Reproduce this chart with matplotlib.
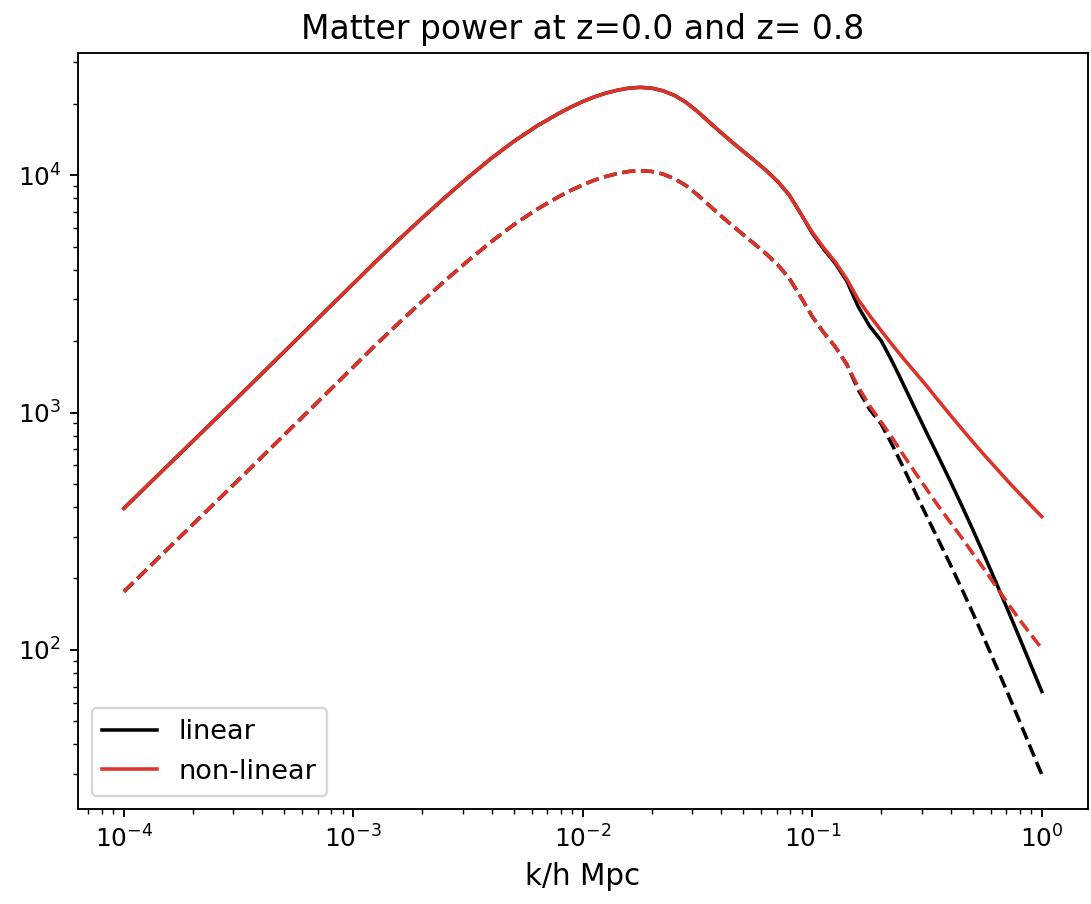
import numpy as np
import matplotlib
matplotlib.use("Agg")
import matplotlib.pyplot as plt

# redshifts
z = [0.0, 0.8]

# log10(k/h) sample points
logk = [-4.0, -3.5, -3.0, -2.9, -2.8, -2.7, -2.6, -2.5, -2.4, -2.3,
        -2.2, -2.1, -2.05, -2.0, -1.95, -1.9, -1.85, -1.8, -1.75, -1.7,
        -1.65, -1.6, -1.55, -1.5, -1.45, -1.4, -1.35, -1.3, -1.25, -1.2,
        -1.15, -1.1, -1.05, -1.0, -0.95, -0.9, -0.85, -0.8, -0.75, -0.7,
        -0.65, -0.6, -0.55, -0.5, -0.45, -0.4, -0.35, -0.3, -0.25, -0.2,
        -0.15, -0.1, -0.05, 0.0]

# linear P(k), z=0
pk_lin_z0 = [394.8, 1168.6, 3494, 4350, 5373, 6604, 8072, 9788, 11755, 13897,
             16116, 18323, 19406, 20436, 21370, 22157, 22789, 23260, 23442, 23260,
             22658, 21663, 20258, 18523, 16755, 15171, 13790, 12571, 11472, 10438,
             9387, 8231, 6874, 5685, 4866, 4246, 3580, 2793, 2310, 2006,
             1627, 1294, 1025, 815, 649.6, 516.4, 407.9, 319.8, 249.0, 192.8,
             148.6, 114.1, 87.3, 66.8]
# non-linear P(k), z=0
pk_nl_z0 = [394.8, 1168.6, 3494, 4350, 5373, 6604, 8072, 9788, 11755, 13897,
            16116, 18323, 19406, 20436, 21370, 22157, 22789, 23260, 23442, 23260,
            22658, 21663, 20258, 18523, 16755, 15171, 13790, 12571, 11472, 10438,
            9387, 8231, 6874, 5741, 4937, 4308, 3651, 2990, 2559, 2212,
            1920, 1675, 1469, 1288, 1121, 979, 856.5, 751, 661, 584.4,
            516.4, 458.5, 408.3, 364.4]
# linear P(k), z=0.8
pk_lin_z08 = [176.0, 520.8, 1557, 1939, 2395, 2943, 3598, 4362, 5239, 6194,
              7183, 8167, 8649, 9108, 9525, 9875, 10157, 10367, 10448, 10367,
              10099, 9655, 9029, 8256, 7468, 6762, 6146, 5603, 5113, 4652,
              4184, 3669, 3064, 2534, 2169, 1892, 1596, 1245, 1030, 894,
              725, 577, 457, 363, 289.5, 230.2, 181.8, 142.5, 111.0, 85.9,
              66.2, 50.9, 38.9, 29.8]
# non-linear P(k), z=0.8
pk_nl_z08 = [176.0, 520.8, 1557, 1939, 2395, 2943, 3598, 4362, 5239, 6194,
             7183, 8167, 8649, 9108, 9525, 9875, 10157, 10367, 10448, 10367,
             10099, 9655, 9029, 8256, 7468, 6762, 6146, 5603, 5113, 4652,
             4184, 3669, 3064, 2534, 2169, 1892, 1596, 1282, 1065, 912,
             778, 655, 555, 472.5, 402.4, 346.0, 297.6, 254.6, 217.9, 185.6,
             158.0, 135.2, 116.8, 101.3]

kh = 10 ** np.array(logk)
pk_lin = [pk_lin_z0, pk_lin_z08]
pk_nl = [pk_nl_z0, pk_nl_z08]

RED = "#dc3228"

plt.rcParams["xtick.labelsize"] = 10.5
plt.rcParams["ytick.labelsize"] = 10.5

fig = plt.figure(figsize=(1091 / 170, 904 / 170), dpi=170)
ax = fig.add_subplot(111)
fig.subplots_adjust(left=0.0715, right=0.997, bottom=0.105, top=0.9414)

for i, line in enumerate(["-", "--"]):
    ax.loglog(kh, pk_lin[i], color="k", ls=line)
    ax.loglog(kh, pk_nl[i], color=RED, ls=line)

ax.set_xlabel("k/h Mpc", fontsize=12.5)
ax.legend(["linear", "non-linear"], loc="lower left", fontsize=11.5)
ax.set_title("Matter power at z=%s and z= %s" % tuple(z), fontsize=14)

plt.savefig("out.png", dpi=170)
